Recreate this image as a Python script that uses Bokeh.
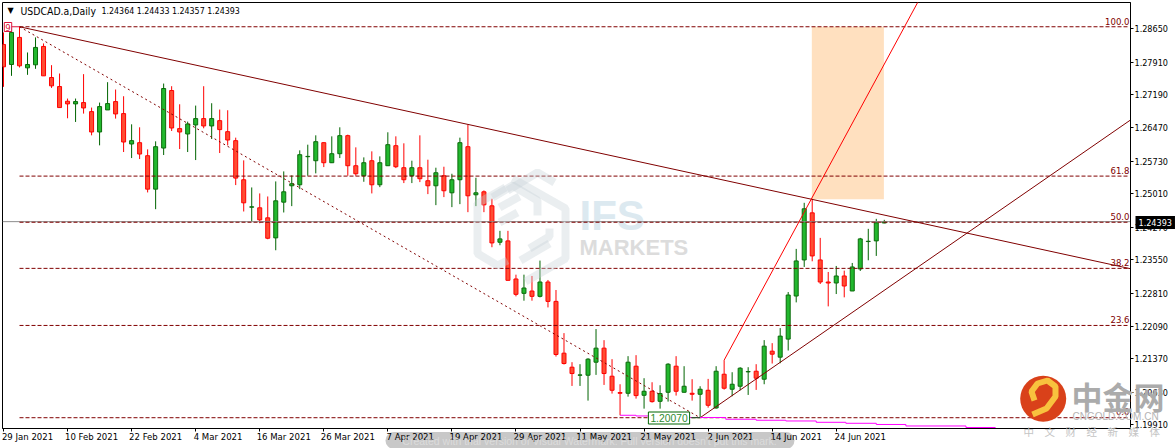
from bokeh.plotting import figure
from bokeh.layouts import column
from bokeh.models import Range1d, FixedTicker, NumeralTickFormatter, Label, ColumnDataSource
from bokeh.embed import file_html
from bokeh.resources import INLINE

opens = [
1.28300,1.27858,1.28455,1.27784,1.27851,1.28256,1.27571,1.27372,1.27048,1.26989,
1.27018,1.26819,1.26370,1.26856,1.27040,1.26775,1.26105,1.26134,1.25847,1.25110,
1.26016,1.27284,1.26444,1.26326,1.26525,1.26665,1.26503,1.26620,1.26377,1.26179,
1.25317,1.24712,1.24698,1.24477,1.24035,1.24823,1.25184,1.25206,1.25825,1.25736,
1.26134,1.25692,1.25891,1.26289,1.25626,1.25405,1.25736,1.25206,1.25626,1.26068,
1.25582,1.25405,1.25582,1.25295,1.25184,1.25405,1.25029,1.25317,1.26046,1.24985,
1.25051,1.24742,1.23939,1.23969,1.23129,1.22812,1.22863,1.22746,1.23062,1.22635,
1.21493,1.21184,1.21007,1.21007,1.21294,1.21604,1.20985,1.20624,1.20609,1.21206,
1.20565,1.20653,1.20432,1.20631,1.21206,1.20631,1.20609,1.20587,1.20675,1.20285,
1.21029,1.20698,1.20764,1.21081,1.21095,1.20919,1.21537,1.21405,1.21803,1.22753,
1.23549,1.24587,1.23549,1.23062,1.23040,1.23195,1.22864,1.23350,1.23954,1.23969,
1.24364]
highs = [
1.28565,1.28654,1.28691,1.28123,1.28455,1.28322,1.27843,1.27659,1.27107,1.27107,
1.27645,1.26908,1.27018,1.27468,1.27306,1.27158,1.26539,1.26473,1.25987,1.26164,
1.27438,1.27379,1.26981,1.26598,1.26952,1.27379,1.27004,1.26864,1.26849,1.26245,
1.25744,1.25147,1.25015,1.24948,1.25280,1.25501,1.25412,1.25965,1.26090,1.26296,
1.26142,1.26274,1.26473,1.26311,1.26031,1.25810,1.25943,1.25832,1.26363,1.26274,
1.26120,1.25737,1.26296,1.25759,1.25582,1.25604,1.25449,1.26245,1.26532,1.25361,
1.25081,1.24897,1.24190,1.24190,1.23224,1.23224,1.23195,1.23534,1.23107,1.22886,
1.21935,1.21294,1.21250,1.21383,1.22024,1.21780,1.21361,1.20808,1.21427,1.21449,
1.20941,1.20852,1.20786,1.21272,1.21427,1.21206,1.20919,1.20764,1.20926,1.21206,
1.21339,1.21073,1.21184,1.21184,1.21250,1.21781,1.21714,1.22046,1.22841,1.23792,
1.24808,1.24897,1.24035,1.23283,1.23416,1.23313,1.23482,1.24035,1.24234,1.24455,
1.24433]
lows = [
1.27365,1.27608,1.27792,1.27630,1.27762,1.27608,1.27342,1.26908,1.26672,1.26591,
1.26775,1.26296,1.26075,1.26856,1.26665,1.25928,1.25795,1.25773,1.25037,1.24668,
1.25862,1.26392,1.25994,1.25928,1.25751,1.26451,1.26215,1.25906,1.26075,1.25199,
1.24617,1.24396,1.24359,1.24005,1.23762,1.24595,1.24735,1.25110,1.25405,1.25457,
1.25596,1.25685,1.25795,1.25405,1.25405,1.25272,1.25015,1.25154,1.25626,1.25574,
1.25243,1.25243,1.25265,1.25000,1.24757,1.24934,1.24713,1.24779,1.24602,1.24735,
1.24602,1.23829,1.23873,1.23099,1.22746,1.22650,1.22650,1.22723,1.22502,1.21419,
1.21243,1.20771,1.20771,1.20447,1.21014,1.20793,1.20602,1.20123,1.20535,1.20491,
1.20270,1.20403,1.20270,1.20425,1.20558,1.20624,1.20447,1.20071,1.20292,1.20270,
1.20690,1.20543,1.20675,1.20572,1.20683,1.20808,1.21265,1.21272,1.21552,1.22613,
1.23394,1.23519,1.23018,1.22525,1.22797,1.22724,1.22864,1.23306,1.23541,1.23637,
1.24357]
closes = [
1.27807,1.28565,1.27829,1.27858,1.28234,1.27608,1.27387,1.26908,1.26989,1.27040,
1.26900,1.26370,1.26930,1.26996,1.26768,1.26149,1.26179,1.25884,1.25110,1.26046,
1.27328,1.26458,1.26370,1.26547,1.26665,1.26503,1.26665,1.26422,1.26193,1.25353,
1.24808,1.24720,1.24432,1.24027,1.24852,1.25051,1.25228,1.25869,1.25832,1.26156,
1.25692,1.25891,1.26289,1.25626,1.25449,1.25692,1.25206,1.25692,1.26090,1.25604,
1.25317,1.25582,1.25339,1.25184,1.25471,1.25074,1.25317,1.26134,1.24963,1.25029,
1.24764,1.23924,1.24013,1.23099,1.22790,1.22930,1.22746,1.23062,1.22635,1.21464,
1.21265,1.21044,1.21014,1.21361,1.21604,1.21044,1.20675,1.20609,1.21294,1.20558,
1.20653,1.20425,1.20602,1.21250,1.20653,1.20764,1.20587,1.20698,1.20344,1.21095,
1.20720,1.20808,1.21162,1.21088,1.20941,1.21648,1.21471,1.21869,1.22775,1.23527,
1.24676,1.23637,1.23062,1.23040,1.23195,1.22974,1.23394,1.24013,1.23961,1.24366,
1.24393]

price_ticks = [1.28650,1.27910,1.27190,1.26470,1.25730,1.25010,1.24270,1.23550,
               1.22810,1.22090,1.21370,1.20630,1.19910]
date_index = [0,8,16,24,32,40,48,56,64,72,80,88,96,104]
date_labels = ["29 Jan 2021","10 Feb 2021","22 Feb 2021","4 Mar 2021","16 Mar 2021",
               "26 Mar 2021","7 Apr 2021","19 Apr 2021","29 Apr 2021","11 May 2021",
               "21 May 2021","2 Jun 2021","14 Jun 2021","24 Jun 2021"]

fib_high = 1.28690
fib_low = 1.20070
fib_levels = [100.0, 61.8, 50.0, 38.2, 23.6, 0.0]
last_price = 1.24393
trend_down_x, trend_down_y = [2, 140.7], [1.28690, 1.23357]
trend_up_x, trend_up_y = [87, 140.7], [1.20070, 1.26628]
fan_x, fan_y = [90, 114.2], [1.21339, 1.29236]
diag_x, diag_y = [2, 87], [1.28690, 1.20070]
ma_x = [77,79,83,90.2,94,97.7,101.5,105.2,109,112.7,120.2,123.9]
ma_y = [1.20124,1.20109,1.20075,1.20036,1.20014,1.19998,1.19969,1.19947,1.19921,1.19888,1.19854,1.19854]

SMALL = "DejaVu Sans Condensed"

def X(px): return (px - 3.5) / 8.0
def Y(py): return 1.2928 - 0.000221 * py

p = figure(width=1175, height=448, output_backend="svg", toolbar_location=None,
           x_range=Range1d(X(2.5), X(1129.5)), y_range=Range1d(Y(427.5), Y(2.5)),
           min_border_left=2, min_border_right=45, min_border_top=2, min_border_bottom=20,
           x_axis_location="below", y_axis_location="right",
           background_fill_color="white", border_fill_color="white")
p.grid.visible = False
p.outline_line_color = "black"
p.outline_line_width = 1

# transparent sheet over the chart, in picture pixels: it carries what lies outside the plot frame
over = figure(frame_width=1175, frame_height=448, output_backend="svg", toolbar_location=None,
              x_range=Range1d(0, 1175), y_range=Range1d(448, 0), x_axis_type=None, y_axis_type=None,
              min_border_left=0, min_border_right=0, min_border_top=0, min_border_bottom=0,
              background_fill_color=None, border_fill_color=None, outline_line_color=None)
over.grid.visible = False
over.styles = {"position": "absolute", "left": "0px", "top": "0px"}

def lab(px, py, text, **kw):
    kw.setdefault("text_baseline", "middle")
    over.add_layout(Label(x=px, y=py, text=text, **kw))

# axes
offs = [3.0 if len(s) == 11 else 2.8 for s in date_labels]
major = [i + o for i, o in zip(date_index, offs)]
xa = p.xaxis[0]
xa.ticker = FixedTicker(ticks=major, minor_ticks=date_index)
xa.major_label_overrides = {m: s for m, s in zip(major, date_labels)}
xa.major_tick_out = 0; xa.major_tick_in = 0
xa.minor_tick_out = 3; xa.minor_tick_in = 0
xa.minor_tick_line_color = "black"
xa.axis_line_color = "black"
xa.major_label_text_font = SMALL
xa.major_label_text_font_size = "9.5px"
xa.major_label_text_color = "black"
xa.major_label_standoff = -1
ya = p.yaxis[0]
ya.ticker = FixedTicker(ticks=price_ticks)
ya.formatter = NumeralTickFormatter(format="0.00000")
ya.major_tick_out = 3; ya.major_tick_in = 0
ya.minor_tick_out = 0; ya.minor_tick_in = 0
ya.major_tick_line_color = "black"
ya.axis_line_color = "black"
ya.major_label_text_font = SMALL
ya.major_label_text_font_size = "9px"
ya.major_label_text_color = "black"
ya.major_label_standoff = 1

# target box (behind)
p.quad(left=[100.95], right=[109.95], top=[fib_high], bottom=[1.24889], fill_color="#FFE0BF",
       line_color=None)

# IFS watermark words
p.add_layout(Label(x=X(579), y=Y(215), text="IFS", text_baseline="middle", text_font="Liberation Sans",
                   text_font_style="bold", text_font_size="42px", text_color="#DCE9F0", level="underlay"))
p.add_layout(Label(x=X(579), y=Y(247), text="MARKETS", text_baseline="middle", text_font="Liberation Sans",
                   text_font_style="bold", text_font_size="22px", text_color="#DCDCDC", level="underlay"))

# candles
idx = list(range(len(opens)))
up = [c >= o for o, c in zip(opens, closes)]
src = ColumnDataSource(dict(
    x=idx, o=opens, h=highs, l=lows, c=closes,
    top=[max(a, b) for a, b in zip(opens, closes)],
    bot=[min(a, b) for a, b in zip(opens, closes)],
    wick=["#006400" if u else "#FF0000" for u in up],
    edge=["#0B6B0B" if u else "#FF0000" for u in up],
    fill=["#22B82E" if u else "#FF4D33" for u in up]))
p.segment(x0="x", x1="x", y0="h", y1="l", source=src, line_color="wick", line_width=1)
p.vbar(x="x", width=0.5, top="top", bottom="bot", source=src, fill_color="fill",
       line_color="edge", line_width=1)

# current price
p.line([X(2.5), X(1129.5)], [last_price, last_price], line_color="#8C8C8C", line_width=1)

# fib levels
rng = fib_high - fib_low
for lv in fib_levels:
    yy = fib_low + rng * lv / 100.0
    p.line([2, 140.4], [yy, yy], line_color="#800000", line_width=1, line_dash="4 2")
    lab(1127, (1.2928 - yy) / 0.000221 - 2, f"{lv:.1f}", text_align="right", text_baseline="bottom",
        text_font=SMALL, text_font_size="9.5px", text_color="#800000")

# drawn objects
p.line(diag_x, diag_y, line_color="#800000", line_width=1, line_dash="2 3")
p.line(trend_down_x, trend_down_y, line_color="#800000", line_width=1)
p.line(trend_up_x, trend_up_y, line_color="#800000", line_width=1)
p.line(fan_x, fan_y, line_color="#FF0000", line_width=1)
p.step(ma_x, ma_y, mode="after", line_color="#FF00FF", line_width=1)

# high / low markers
p.line([0.8, 2], [fib_high, fib_high], line_color="#DC143C", line_width=1)
lab(5.5, 26.5, "9", text_align="center", text_font=SMALL, text_font_size="9.5px", text_color="#DC143C",
    padding=1, background_fill_color="white", border_line_color="#DC143C")
p.line([85.9, 87], [fib_low, fib_low], line_color="#006400", line_width=1)
lab(666.5, 417.5, "1.20070", text_align="center", text_font="Liberation Sans", text_font_size="10.3px",
    text_color="#2E8B2E", padding=2, background_fill_color="white", border_line_color="#006400")

# header
lab(5, 10, "\u25BC", text_font="DejaVu Sans", text_font_size="8px", text_color="black")
lab(18, 10.5, "USDCAD.a,Daily", text_font=SMALL, text_font_size="10.4px", text_color="black")
lab(99, 10.5, "1.24364 1.24433 1.24357 1.24393", text_font=SMALL, text_font_size="8.8px", text_color="black")

# last price tag
lab(1133, 222, "1.24393", text_font=SMALL, text_font_size="9px", text_color="white",
    background_fill_color="black", padding=3)

# IFS watermark mark
logo = [
 [(503,187),(475,203),(475,253),(495,265),(505,260)],
 [(510,178),(563,208),(563,258),(523,281)],
 [(490,197),(510,185),(535,200),(535,215)],
 [(497,207),(517,196)],
 [(497,222),(515,212)],
 [(527,248),(547,236),(547,228)],
 [(518,260),(547,243)],
 [(505,190),(535,172),(552,182)],
]
for pts in logo:
    over.line([a for a, _ in pts], [b for _, b in pts], line_color="#C8D2D8", line_alpha=0.38, line_width=8)

# bottom band: a black veil, so the date labels below it keep their black
over.line([391.5, 783.5], [440, 440], line_color="black", line_alpha=0.216, line_width=17, line_cap="round")
lab(587, 440, "Created with trial version of Visual Watermark. Full version doesn't put this mark.",
    text_align="center", text_font="Liberation Sans", text_font_size="10.5px", text_color="#E4E4E4", text_alpha=0.7)

# CNGOLD logo
over.scatter([1040.7], [398.3], size=46, marker="circle", fill_color="#D9411A", line_color=None)
sw = [(1030,414),(1044,408),(1053,396),(1053,386),(1045,380),(1035,383),(1029,391),(1032,400)]
over.line([a for a, _ in sw], [b for _, b in sw], line_color="#F8C23E", line_width=6)
lab(1069, 395, "中金网", text_font="Noto Sans CJK SC", text_font_style="bold", text_font_size="31px",
    text_color="#ABABAB")
lab(1070, 416, "CNGOLD.COM.CN", text_font="Liberation Sans", text_font_size="10px", text_color="#B4B4B4")
lab(1021, 431, "中\u3000文\u3000财\u3000经\u3000新\u3000媒\u3000体", text_font="Noto Sans CJK SC",
    text_font_size="10.5px", text_color="#C4C4C4")

open("out.html", "w").write(file_html(column(p, over), INLINE))
